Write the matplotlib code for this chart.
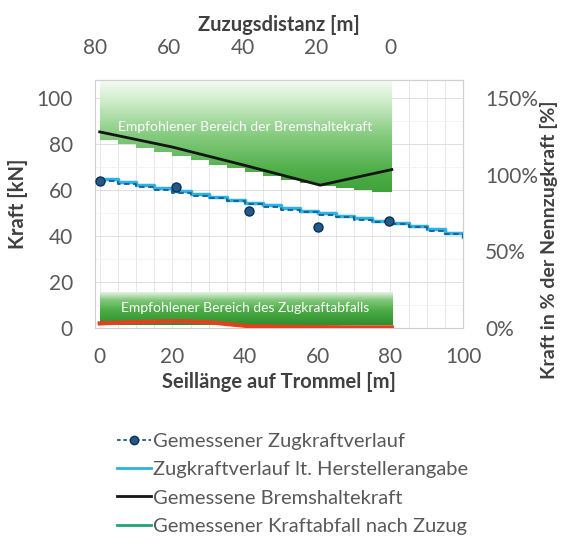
import numpy as np
import matplotlib
matplotlib.use("Agg")
import matplotlib.pyplot as plt
from matplotlib.colors import LinearSegmentedColormap
from matplotlib.lines import Line2D

plt.rcParams['font.family'] = ['Lato', 'DejaVu Sans']

# ---------------- data ----------------
step_x = [0, 5, 10, 15, 20, 25, 30, 35, 40, 45, 50, 55, 60, 65, 70, 75, 80, 85, 90, 95, 100]
hersteller = [64.8, 63.5, 62.2, 60.9, 59.6, 58.3, 57.0, 55.8, 54.6, 53.4, 52.2, 51.0,
              49.9, 48.8, 47.7, 46.7, 45.7, 44.6, 43.0, 41.4, 39.8]
gemessen_verlauf = [64.2, 62.9, 61.6, 60.3, 59.0, 57.7, 56.4, 55.2, 54.0, 52.8, 51.6, 50.4,
                    49.3, 48.2, 47.1, 46.1, 45.1, 44.0, 42.4, 40.8, 39.2]
punkt_x = [0, 21, 41, 60, 79.5]
punkt_y = [63.9, 61.4, 50.9, 43.8, 46.7]
brems_x = [0, 20, 40, 60.7, 80.4]
brems_y = [85.4, 78.8, 70.8, 62.2, 69.0]
abfall_x = [0, 10, 22, 30, 41, 50, 60, 70, 80.4]
abfall_y = [2.0, 2.6, 3.0, 2.5, 0.8, 0.6, 0.4, 0.3, 0.3]
band_x = [0, 5, 10, 15, 20, 25, 30, 35, 40, 45, 50, 55, 60, 65, 70, 75, 80.4]
band_unten = [81.7, 80.0, 78.3, 76.5, 74.7, 73.0, 71.2, 69.5, 67.8, 66.0, 64.3, 63.0,
              61.8, 60.8, 59.9, 59.1, 58.5]
band_oben = 108
abfall_band = [1.2, 15.5]
legend_labels = ["Gemessener Zugkraftverlauf", "Zugkraftverlauf lt. Herstellerangabe",
                 "Gemessene Bremshaltekraft", "Gemessener Kraftabfall nach Zuzug"]

# ---------------- figure ----------------
fig = plt.figure(figsize=(5.61, 5.47), dpi=100)
ax = fig.add_axes([95/561, 1-328/547, (463-95)/561, (328-80)/547])
ax.set_xlim(-1.3, 100)
ax.set_ylim(0, 108)

grey_txt = '#595959'
lab_c = '#404040'
for sp in ax.spines.values():
    sp.set_color('#d0d0d0')
    sp.set_linewidth(0.8)

ax.set_xticks([0, 20, 40, 60, 80, 100])
ax.set_xticks(np.arange(0, 101, 5), minor=True)
ax.set_yticks([0, 20, 40, 60, 80, 100])
ax.set_yticks(np.arange(0, 108, 10), minor=True)
ax.grid(True, which='major', axis='y', color='#dedede', lw=0.7)
ax.grid(True, which='minor', axis='y', color='#f2f2f2', lw=0.6)
ax.grid(True, which='both', axis='x', color='#e6e6e6', lw=0.7)
ax.tick_params(axis='both', which='both', length=0, labelsize=15, labelcolor=grey_txt)
ax.tick_params(axis='x', pad=14)
ax.tick_params(axis='y', pad=16)
ax.set_axisbelow(True)

# upper recommended band (gradient)
cmap_up = LinearSegmentedColormap.from_list('up', [
    (0.0, '#3a9a34'), (0.25, '#4eae48'), (0.55, '#86cc80'), (0.85, '#d4eed0'), (1.0, '#f4fbf3')])
poly = ax.fill_between(band_x, band_unten, band_oben, step='post', color='none', lw=0)
grad = np.linspace(0, 1, 256).reshape(-1, 1)
im = ax.imshow(grad, cmap=cmap_up, origin='lower', aspect='auto',
               extent=[0, 80.4, 55, band_oben], zorder=1, interpolation='bicubic')
im.set_clip_path(poly.get_paths()[0], transform=ax.transData)

# lower recommended band (gradient)
cmap_lo = LinearSegmentedColormap.from_list('lo', [
    (0.0, '#2f8f2e'), (0.45, '#4cad46'), (0.75, '#7fc678'), (1.0, '#e6f4e3')])
ax.imshow(grad, cmap=cmap_lo, origin='lower', aspect='auto',
          extent=[0, 80.4, abfall_band[0], abfall_band[1]], zorder=1, interpolation='bicubic')

ax.text(40, 87.5, "Empfohlener Bereich der Bremshaltekraft", color='white', fontsize=10,
        ha='center', va='center', zorder=3)
ax.text(40, 8.7, "Empfohlener Bereich des Zugkraftabfalls", color='white', fontsize=10,
        ha='center', va='center', zorder=3)

# lines
ax.plot(step_x, hersteller, drawstyle='steps-post', color='#2ab3e6', lw=2.5, zorder=4)
ax.plot(step_x, gemessen_verlauf, drawstyle='steps-post', color='#1f5a8a', lw=1.3,
        ls=(0, (3, 2)), zorder=5)
ax.plot(punkt_x, punkt_y, ls='none', marker='o', ms=6.5, color='#1f5a8a',
        mec='#0f2f50', mew=1.0, zorder=6)
ax.plot(brems_x, brems_y, color='#151515', lw=2.0, zorder=5)
ax.plot(abfall_x, abfall_y, color='#e2401f', lw=3.0, zorder=5)

ax.set_xlabel("Seillänge auf Trommel [m]", fontsize=14.5, fontweight='bold', color=lab_c,
              labelpad=3)
ax.set_ylabel("Kraft [kN]", fontsize=14.5, fontweight='bold', color=lab_c, labelpad=6)

# top axis
f = lambda x: (79.9 - np.asarray(x)) * 0.9864
g = lambda t: 79.9 - np.asarray(t) / 0.9864
top = ax.secondary_xaxis('top', functions=(f, g))
top.set_xticks([80, 60, 40, 20, 0])
top.tick_params(length=0, labelsize=15, labelcolor=grey_txt, pad=16)
top.spines['top'].set_color('#d0d0d0')
top.set_xlabel("Zuzugsdistanz [m]", fontsize=14.5, fontweight='bold', color=lab_c, labelpad=5)

# right axis
right = ax.secondary_yaxis('right', functions=(lambda y: np.asarray(y) * 1.5,
                                               lambda p: np.asarray(p) / 1.5))
right.set_yticks([0, 50, 100, 150])
right.set_yticklabels(['0%', '50%', '100%', '150%'])
right.tick_params(length=0, labelsize=15, labelcolor=grey_txt, pad=16)
right.spines['right'].set_color('#d0d0d0')
fig.text(549/561, 1-240/547, "Kraft in % der Nennzugkraft [%]", fontsize=14,
         fontweight='bold', color=lab_c, rotation=90, ha='center', va='center')

# legend
handles = [
    Line2D([], [], color='#1f5a8a', ls=(0, (2, 1.5)), lw=1.3, marker='o', ms=6,
           mec='#0f2f50', markevery=[1]),
    Line2D([], [], color='#2ab3e6', lw=2),
    Line2D([], [], color='#151515', lw=2),
    Line2D([], [], color='#22a37a', lw=2),
]
leg = fig.legend(handles, legend_labels, loc='upper left',
                 bbox_to_anchor=(107/561, 1-423/547), frameon=False, fontsize=14.5,
                 handlelength=1.7, handletextpad=0.1, labelspacing=0.55, borderpad=0)
for t in leg.get_texts():
    t.set_color(grey_txt)

fig.savefig("out.png", dpi=100)
